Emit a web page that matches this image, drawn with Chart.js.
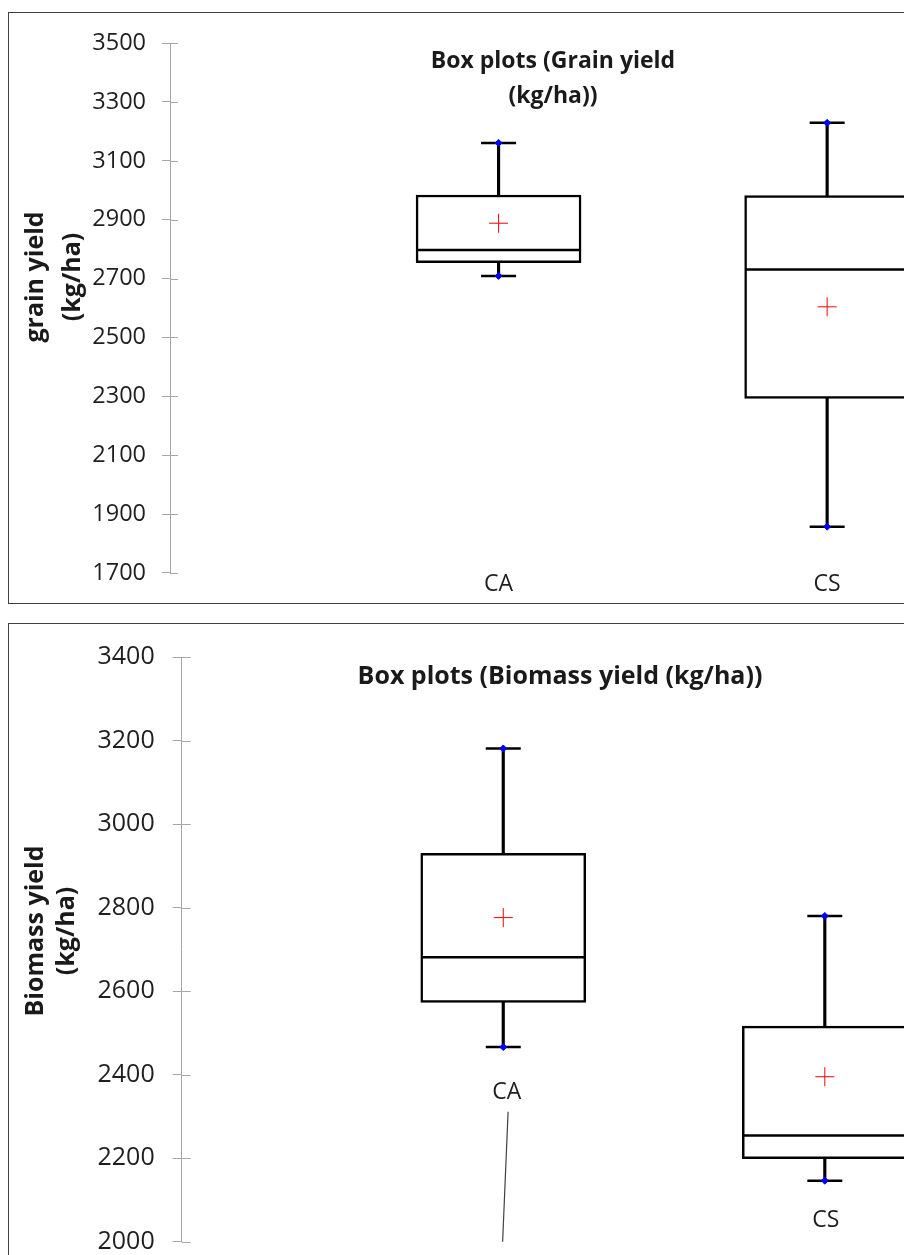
<!DOCTYPE html>
<html>
<head>
<meta charset="utf-8">
<script src="https://cdn.jsdelivr.net/npm/chart.js@4.4.1/dist/chart.umd.min.js"></script>
<style>
  html, body { margin: 0; padding: 0; background: #fff; overflow: hidden; width: 904px; height: 1255px; }
  .frame { position: absolute; left: 8px; border: 1px solid #404040; width: 920px; }
  #f1 { top: 12px; height: 590px; }
  #f2 { top: 623px; height: 660px; }
  canvas { display: block; }
</style>
</head>
<body>
<div class="frame" id="f1"><canvas id="grain"></canvas></div>
<div class="frame" id="f2"><canvas id="biomass"></canvas></div>
<script>
// categories and box plot statistics
var categories = ['CA', 'CS'];

var grainMin = [2709, 1857];
var grainQ1 = [2754, 2293];
var grainMedian = [2797, 2731];
var grainQ3 = [2984, 2982];
var grainMax = [3161, 3229];
var grainMean = [2888, 2604];

var biomassMin = [2466, 2146];
var biomassQ1 = [2573, 2199];
var biomassMedian = [2681, 2254];
var biomassQ3 = [2930, 2516];
var biomassMax = [3181, 2780];
var biomassMean = [2776, 2395];

var grainTicks = [1700, 3500, 200];
var biomassTicks = [2000, 3400, 200];

var tickFont = '"Open Sans", sans-serif';

function pts(vals) {
  return vals.map(function (v, i) { return { x: i + 1, y: v }; });
}
function ranges(lo, hi) {
  return lo.map(function (v, i) { return { x: i + 1, y: [v, hi[i]] }; });
}

function boxDatasets(mins, q1s, meds, q3s, maxs, means) {
  return [
    { type: 'bar', data: ranges(mins, maxs), backgroundColor: '#000', barThickness: 2.5, grouped: false, order: 5 },
    { type: 'bar', data: ranges(q1s, q3s), backgroundColor: '#fff', borderColor: '#000', borderWidth: 2.5,
      borderSkipped: false, barThickness: 165, grouped: false, order: 4 },
    { type: 'line', data: pts(meds), showLine: false, pointStyle: 'line', pointRadius: 81,
      pointBorderColor: '#000', pointBorderWidth: 2.5, order: 3 },
    { type: 'line', data: pts(mins).concat(pts(maxs)), showLine: false, pointStyle: 'line', pointRadius: 17.5,
      pointBorderColor: '#000', pointBorderWidth: 2.5, order: 2 },
    { type: 'line', data: pts(mins).concat(pts(maxs)), showLine: false, pointStyle: 'rectRot', pointRadius: 3.5,
      pointBackgroundColor: '#0000ff', pointBorderColor: '#0000ff', pointBorderWidth: 1, order: 1 },
    { type: 'line', data: pts(means), showLine: false, pointStyle: 'cross', pointRadius: 9.5,
      pointBorderColor: '#ff0000', pointBorderWidth: 1, order: 0 }
  ];
}

// inner half of the cross ticks on the value axis
var innerTicks = {
  id: 'innerTicks',
  afterDraw: function (chart, args, opts) {
    var y = chart.scales.y, ctx = chart.ctx;
    ctx.save();
    ctx.strokeStyle = opts.color;
    ctx.lineWidth = 1;
    y.ticks.forEach(function (t) {
      var p = Math.round(y.getPixelForValue(t.value)) + 0.5;
      ctx.beginPath();
      ctx.moveTo(y.right, p);
      ctx.lineTo(y.right + opts.length, p);
      ctx.stroke();
    });
    ctx.restore();
  }
};

// chart title and axis title, placed like the original
var overlayText = {
  id: 'overlayText',
  afterDraw: function (chart, args, opts) {
    var ctx = chart.ctx;
    opts.items.forEach(function (it) {
      ctx.save();
      ctx.font = it.font;
      ctx.fillStyle = it.color || '#000';
      ctx.textAlign = 'center';
      ctx.textBaseline = 'middle';
      ctx.translate(it.x, it.y);
      if (it.rotate) ctx.rotate(-Math.PI / 2);
      it.lines.forEach(function (line, i) {
        ctx.fillText(line, 0, (i - (it.lines.length - 1) / 2) * it.lineHeight);
      });
      ctx.restore();
    });
  }
};

// category names placed in data space (dragged labels in the original)
var catLabels = {
  id: 'catLabels',
  afterDraw: function (chart, args, opts) {
    if (!opts.anchors) return;
    var xs = chart.scales.x, ys = chart.scales.y, ctx = chart.ctx;
    ctx.save();
    ctx.font = opts.font;
    ctx.fillStyle = opts.color;
    ctx.textAlign = 'center';
    ctx.textBaseline = 'middle';
    opts.anchors.forEach(function (a, i) {
      ctx.fillText(categories[i], xs.getPixelForValue(a.x), ys.getPixelForValue(a.y));
      if (a.leader) {
        ctx.strokeStyle = '#404040';
        ctx.lineWidth = 1.2;
        ctx.beginPath();
        ctx.moveTo(xs.getPixelForValue(a.leader[0]), ys.getPixelForValue(a.leader[1]));
        ctx.lineTo(xs.getPixelForValue(a.leader[2]), ys.getPixelForValue(a.leader[3]));
        ctx.stroke();
      }
    });
    ctx.restore();
  }
};

function yAxis(range, width, fontSize, tickLen, pad) {
  return {
    type: 'linear',
    min: range[0], max: range[1],
    afterFit: function (s) { s.width = width; },
    ticks: {
      stepSize: range[2], color: '#1f1f1f', padding: pad, font: { family: tickFont, size: fontSize },
      callback: function (v) { return String(v); }
    },
    grid: { display: true, drawOnChartArea: false, drawTicks: true, tickLength: tickLen, color: '#a6a6a6' },
    border: { display: true, color: '#a6a6a6' }
  };
}

new Chart(document.getElementById('grain'), {
  type: 'bar',
  data: { datasets: boxDatasets(grainMin, grainQ1, grainMedian, grainQ3, grainMax, grainMean) },
  plugins: [innerTicks, overlayText, catLabels],
  options: {
    responsive: true,
    maintainAspectRatio: false,
    animation: false,
    events: [],
    layout: { autoPadding: false, padding: { top: 30, right: 0, bottom: 0, left: 0 } },
    scales: {
      x: {
        type: 'linear', min: 0, max: 2.31, offset: false,
        afterBuildTicks: function (s) { s.ticks = [{ value: 1 }, { value: 2 }]; },
        afterFit: function (s) { s.height = 29; },
        ticks: {
          autoSkip: false, maxRotation: 0, padding: -10, color: '#1f1f1f',
          font: { family: tickFont, size: 23 },
          callback: function (v) { return categories[v - 1]; }
        },
        grid: { display: false },
        border: { display: false }
      },
      y: yAxis(grainTicks, 161, 23.5, 8, 16)
    },
    plugins: {
      legend: { display: false },
      tooltip: { enabled: false },
      innerTicks: { color: '#a6a6a6', length: 8 },
      overlayText: {
        items: [
          { lines: ['Box plots (Grain yield', '(kg/ha))'], x: 544, y: 66, lineHeight: 35,
            font: 'bold 23px "Open Sans", sans-serif', color: '#1a1a1a' },
          { lines: ['grain yield', '(kg/ha)'], x: 45, y: 264, lineHeight: 37, rotate: true,
            font: 'bold 25px "Open Sans", sans-serif', color: '#1a1a1a' }
        ]
      },
      catLabels: {}
    }
  }
});

new Chart(document.getElementById('biomass'), {
  type: 'bar',
  data: { datasets: boxDatasets(biomassMin, biomassQ1, biomassMedian, biomassQ3, biomassMax, biomassMean) },
  plugins: [innerTicks, overlayText, catLabels],
  options: {
    responsive: true,
    maintainAspectRatio: false,
    animation: false,
    events: [],
    layout: { autoPadding: false, padding: { top: 23.7, right: 0, bottom: 42.3, left: 0 } },
    scales: {
      x: { type: 'linear', min: 0, max: 2.324, offset: false, display: false },
      y: yAxis(biomassTicks, 172.7, 25, 9, 18)
    },
    plugins: {
      legend: { display: false },
      tooltip: { enabled: false },
      innerTicks: { color: '#a6a6a6', length: 9 },
      overlayText: {
        items: [
          { lines: ['Box plots (Biomass yield (kg/ha))'], x: 551, y: 53, lineHeight: 30,
            font: 'bold 25px "Open Sans", sans-serif', color: '#1a1a1a' },
          { lines: ['Biomass yield', '(kg/ha)'], x: 42, y: 307, lineHeight: 31, rotate: true,
            font: 'bold 25px "Open Sans", sans-serif', color: '#1a1a1a' }
        ]
      },
      catLabels: {
        font: '23px "Open Sans", sans-serif', color: '#1f1f1f',
        anchors: [
          { x: 1.011, y: 2358, leader: [1.015, 2311, 0.998, 2000] },
          { x: 2.003, y: 2052 }
        ]
      }
    }
  }
});
</script>
</body>
</html>
